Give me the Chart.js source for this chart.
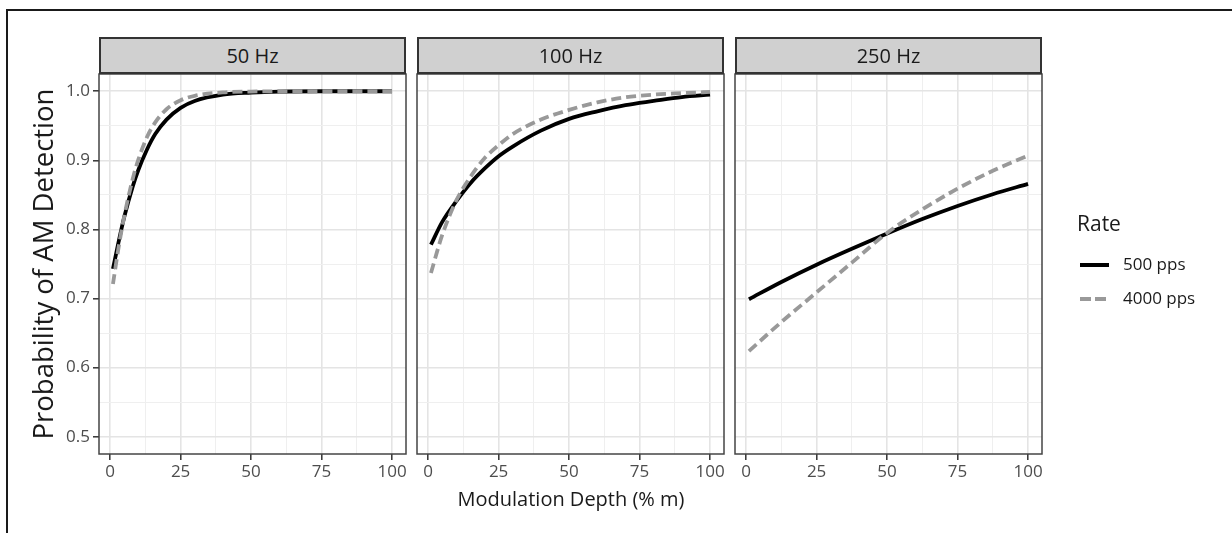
<!DOCTYPE html>
<html>
<head>
<meta charset="utf-8">
<script src="https://cdn.jsdelivr.net/npm/chart.js@4/dist/chart.umd.min.js"></script>
<style>
  body { margin: 0; background: #fff; font-family: "Open Sans", sans-serif; }
  #page { position: relative; width: 1232px; height: 533px; overflow: hidden; }
  #frame { position: absolute; left: 6px; top: 9px; width: 1300px; height: 600px;
           border-top: 2px solid #1a1a1a; border-left: 2px solid #1a1a1a; }
  canvas { position: absolute; left: 0; top: 0; }
  .strip { position: absolute; top: 37px; height: 37px; box-sizing: border-box;
           background: #d0d0d0; border: 2px solid #333; color: #1a1a1a;
           font-size: 20px; line-height: 33px; text-align: center; }
  .title { position: absolute; color: #1a1a1a; text-align: center; white-space: nowrap; }
  .legend-row { position: absolute; left: 1080px; height: 20px; font-size: 17px; color: #1a1a1a; line-height: 20px; }
  .legend-row svg { position: absolute; left: 0; top: 0; }
  .legend-row span { position: absolute; left: 43px; top: -1px; white-space: nowrap; }
</style>
</head>
<body>
<div id="page">
  <div id="frame"></div>
  <canvas id="c50" width="1232" height="533"></canvas>
  <canvas id="c100" width="1232" height="533"></canvas>
  <canvas id="c250" width="1232" height="533"></canvas>
  <div class="strip" style="left:99px;width:307px">50 Hz</div>
  <div class="strip" style="left:417px;width:307px">100 Hz</div>
  <div class="strip" style="left:735px;width:307px">250 Hz</div>
  <div class="title" style="left:-157px;top:248px;width:400px;height:32px;line-height:32px;font-size:27.5px;transform:rotate(-90deg)">Probability of AM Detection</div>
  <div class="title" style="left:371px;top:486px;width:400px;height:26px;line-height:26px;font-size:20px">Modulation Depth (% m)</div>
  <div class="title" style="left:1077px;top:209px;font-size:21px;line-height:28px;text-align:left">Rate</div>
  <div class="legend-row" style="top:255px">
    <svg width="32" height="20"><line x1="0" y1="10" x2="29" y2="10" stroke="#000" stroke-width="4"/></svg>
    <span>500 pps</span>
  </div>
  <div class="legend-row" style="top:289px">
    <svg width="32" height="20"><line x1="0" y1="10" x2="29" y2="10" stroke="#999" stroke-width="4" stroke-dasharray="11 4"/></svg>
    <span>4000 pps</span>
  </div>
</div>
<script>
// 데이터
const DEPTH_50 = [1, 3, 5, 8, 10, 13, 16, 20, 25, 30, 40, 50, 60, 75, 100];
const P500_50HZ = [0.743, 0.782, 0.818, 0.862, 0.886, 0.915, 0.938, 0.959, 0.976, 0.986, 0.995, 0.998, 0.9995, 1.0, 1.0];
const P4000_50HZ = [0.721, 0.774, 0.819, 0.873, 0.901, 0.933, 0.955, 0.974, 0.987, 0.9934, 0.9984, 0.9996, 1.0, 1.0, 1.0];

const DEPTH_100 = [1, 5, 10, 15, 20, 25, 30, 40, 50, 60, 70, 80, 90, 100];
const P500_100HZ = [0.778, 0.811, 0.841, 0.867, 0.888, 0.906, 0.920, 0.943, 0.960, 0.971, 0.980, 0.986, 0.9916, 0.995];
const P4000_100HZ = [0.737, 0.792, 0.842, 0.876, 0.903, 0.922, 0.938, 0.959, 0.973, 0.984, 0.9913, 0.9952, 0.9973, 0.999];

const DEPTH_250 = [1, 12.5, 25, 37.5, 50, 62.5, 75, 87.5, 100];
const P500_250HZ = [0.699, 0.724, 0.749, 0.772, 0.794, 0.815, 0.834, 0.851, 0.866];
const P4000_250HZ = [0.624, 0.666, 0.709, 0.752, 0.795, 0.829, 0.859, 0.885, 0.907];

// 눈금
const X_TICKS = [0, 12.5, 25, 37.5, 50, 62.5, 75, 87.5, 100];
const X_LABELS = [0, 25, 50, 75, 100];
const Y_TICKS = [0.5, 0.55, 0.6, 0.65, 0.7, 0.75, 0.8, 0.85, 0.9, 0.95, 1.0];
const Y_LABELS = [0.5, 0.6, 0.7, 0.8, 0.9, 1.0];

const PANEL_W = 307;
const PLOT_TOP = 74;
const PLOT_BOTTOM = 454;
const TICK_FONT = { family: 'Open Sans', size: 17 };

function isMajor(list, v) {
    return list.some(m => Math.abs(m - v) < 1e-6);
}

// 패널 테두리
const borderPlugin = {
    id: 'panelBorder',
    afterDraw(chart) {
        const a = chart.chartArea;
        const ctx = chart.ctx;
        ctx.save();
        ctx.strokeStyle = '#444';
        ctx.lineWidth = 1.5;
        ctx.strokeRect(a.left, a.top, a.right - a.left, a.bottom - a.top);
        ctx.restore();
    }
};

function makePanel(id, left, depth, p500, p4000, showY) {
    const yw = showY ? 40 : 10;
    const xh = 30;
    const toXY = arr => arr.map((v, i) => ({ x: depth[i], y: v }));

    new Chart(document.getElementById(id), {
        type: 'line',
        data: {
            datasets: [
                {
                    label: '500 pps',
                    data: toXY(p500),
                    borderColor: '#000',
                    borderWidth: 3.8,
                    pointRadius: 0,
                    cubicInterpolationMode: 'monotone',
                    order: 1
                },
                {
                    label: '4000 pps',
                    data: toXY(p4000),
                    borderColor: '#999',
                    borderWidth: 3.8,
                    borderDash: [10, 5],
                    pointRadius: 0,
                    cubicInterpolationMode: 'monotone',
                    order: 0
                }
            ]
        },
        options: {
            responsive: false,
            animation: false,
            layout: {
                padding: {
                    left: left - yw,
                    top: PLOT_TOP,
                    right: 1232 - (left + PANEL_W),
                    bottom: 533 - PLOT_BOTTOM - xh
                }
            },
            plugins: { legend: { display: false }, tooltip: { enabled: false } },
            scales: {
                x: {
                    type: 'linear',
                    min: -3.95,
                    max: 104.95,
                    afterBuildTicks: s => { s.ticks = X_TICKS.map(v => ({ value: v })); },
                    afterFit: s => { s.height = xh; },
                    border: { display: false },
                    grid: {
                        color: c => isMajor(X_LABELS, c.tick.value) ? '#e4e4e4' : '#efefef',
                        lineWidth: c => isMajor(X_LABELS, c.tick.value) ? 1.6 : 1,
                        tickColor: c => isMajor(X_LABELS, c.tick.value) ? '#333' : 'rgba(0,0,0,0)',
                        tickWidth: 1.5,
                        tickLength: 6
                    },
                    ticks: {
                        autoSkip: false,
                        maxRotation: 0,
                        padding: 2,
                        color: '#4d4d4d',
                        font: TICK_FONT,
                        callback: v => isMajor(X_LABELS, v) ? String(v) : ''
                    }
                },
                y: {
                    min: 0.475,
                    max: 1.025,
                    afterBuildTicks: s => { s.ticks = Y_TICKS.map(v => ({ value: v })); },
                    afterFit: s => { s.width = yw; },
                    border: { display: false },
                    grid: {
                        color: c => isMajor(Y_LABELS, c.tick.value) ? '#e4e4e4' : '#efefef',
                        lineWidth: c => isMajor(Y_LABELS, c.tick.value) ? 1.6 : 1,
                        drawTicks: showY,
                        tickColor: c => isMajor(Y_LABELS, c.tick.value) ? '#333' : 'rgba(0,0,0,0)',
                        tickWidth: 1.5,
                        tickLength: 6
                    },
                    ticks: {
                        display: showY,
                        autoSkip: false,
                        padding: 3,
                        color: '#4d4d4d',
                        font: TICK_FONT,
                        callback: v => isMajor(Y_LABELS, v) ? v.toFixed(1) : ''
                    }
                }
            }
        },
        plugins: [borderPlugin]
    });
}

makePanel('c50', 99, DEPTH_50, P500_50HZ, P4000_50HZ, true);
makePanel('c100', 417, DEPTH_100, P500_100HZ, P4000_100HZ, false);
makePanel('c250', 735, DEPTH_250, P500_250HZ, P4000_250HZ, false);
</script>
</body>
</html>
